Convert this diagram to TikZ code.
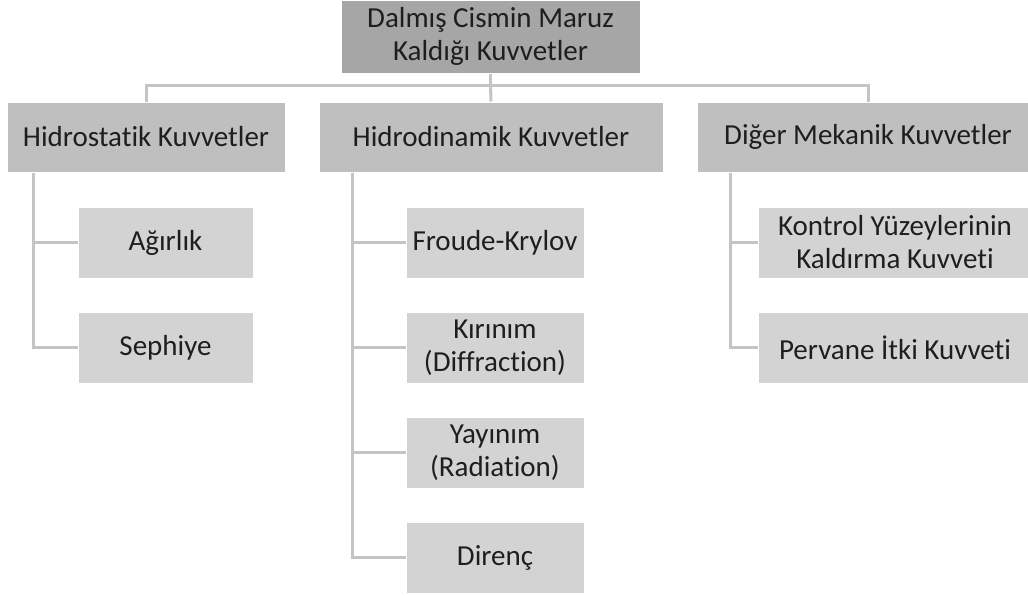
\documentclass[tikz,border=0pt]{standalone}
\usepackage{fontspec}
\setmainfont{Carlito}[Ligatures=NoCommon]
\definecolor{topgray}{HTML}{A6A6A6}
\definecolor{midgray}{HTML}{BFBFBF}
\definecolor{lowgray}{HTML}{D3D3D3}
\definecolor{linegray}{HTML}{C4C4C4}
\definecolor{txtgray}{HTML}{1E1E1E}
\begin{document}
\begin{tikzpicture}[x=1pt,y=-1pt,
    box/.style={draw=white, line width=1pt, inner sep=0pt, align=center, text=txtgray,
        font=\fontsize{29}{33}\selectfont},
    topbox/.style={box, fill=topgray, minimum width=299pt, minimum height=73pt},
    groupbox/.style={box, fill=midgray, minimum height=70pt},
    itembox/.style={box, fill=lowgray, minimum height=71pt},
    conn/.style={draw=linegray, line width=3pt}]
    \clip (0,0) rectangle (1028,595);
    \fill[white] (0,0) rectangle (1028,595);

    \node[topbox] (top) at (490.5,36.5) {Dalmış Cismin Maruz\\Kaldığı Kuvvetler};

    \node[groupbox, minimum width=278pt] (hs) at (146,137) {Hidrostatik Kuvvetler};
    \node[groupbox, minimum width=344pt] (hd) at (491,137) {Hidrodinamik Kuvvetler};
    \node[groupbox, minimum width=342pt] (dm) at (868,137) {Diğer Mekanik Kuvvetler};

    % hidrostatik
    \node[itembox, minimum width=175pt] (agirlik) at (165.5,242.5) {Ağırlık};
    \node[itembox, minimum width=175pt] (sephiye) at (165.5,347.5) {Sephiye};

    % hidrodinamik
    \node[itembox, minimum width=178pt] (froude) at (495,242.5) {Froude-Krylov};
    \node[itembox, minimum width=178pt] (kirinim) at (495,347.5) {Kırınım\\(Diffraction)};
    \node[itembox, minimum width=178pt] (yayinim) at (495,452.5) {Yayınım\\(Radiation)};
    \node[itembox, minimum width=178pt] (direnc) at (495,557.5) {Direnç};

    % diger
    \node[itembox, minimum width=274pt] (kontrol) at (895,242.5) {Kontrol Yüzeylerinin\\Kaldırma Kuvveti};
    \node[itembox, minimum width=274pt] (pervane) at (895,347.5) {Pervane İtki Kuvveti};

    \coordinate (bus) at (490.5,85);
    \draw[conn] (top.south) -- (bus);
    \draw[conn] (bus) -| (hs.north);
    \draw[conn] (bus) -| (dm.north);
    \draw[conn] (bus) -- (hd.north);

    \draw[conn] ([xshift=27pt]hs.south west) |- (agirlik.west);
    \draw[conn] ([xshift=27pt]hs.south west) |- (sephiye.west);

    \draw[conn] ([xshift=34pt]hd.south west) |- (froude.west);
    \draw[conn] ([xshift=34pt]hd.south west) |- (kirinim.west);
    \draw[conn] ([xshift=34pt]hd.south west) |- (yayinim.west);
    \draw[conn] ([xshift=34pt]hd.south west) |- (direnc.west);

    \draw[conn] ([xshift=34pt]dm.south west) |- (kontrol.west);
    \draw[conn] ([xshift=34pt]dm.south west) |- (pervane.west);
\end{tikzpicture}
\end{document}
